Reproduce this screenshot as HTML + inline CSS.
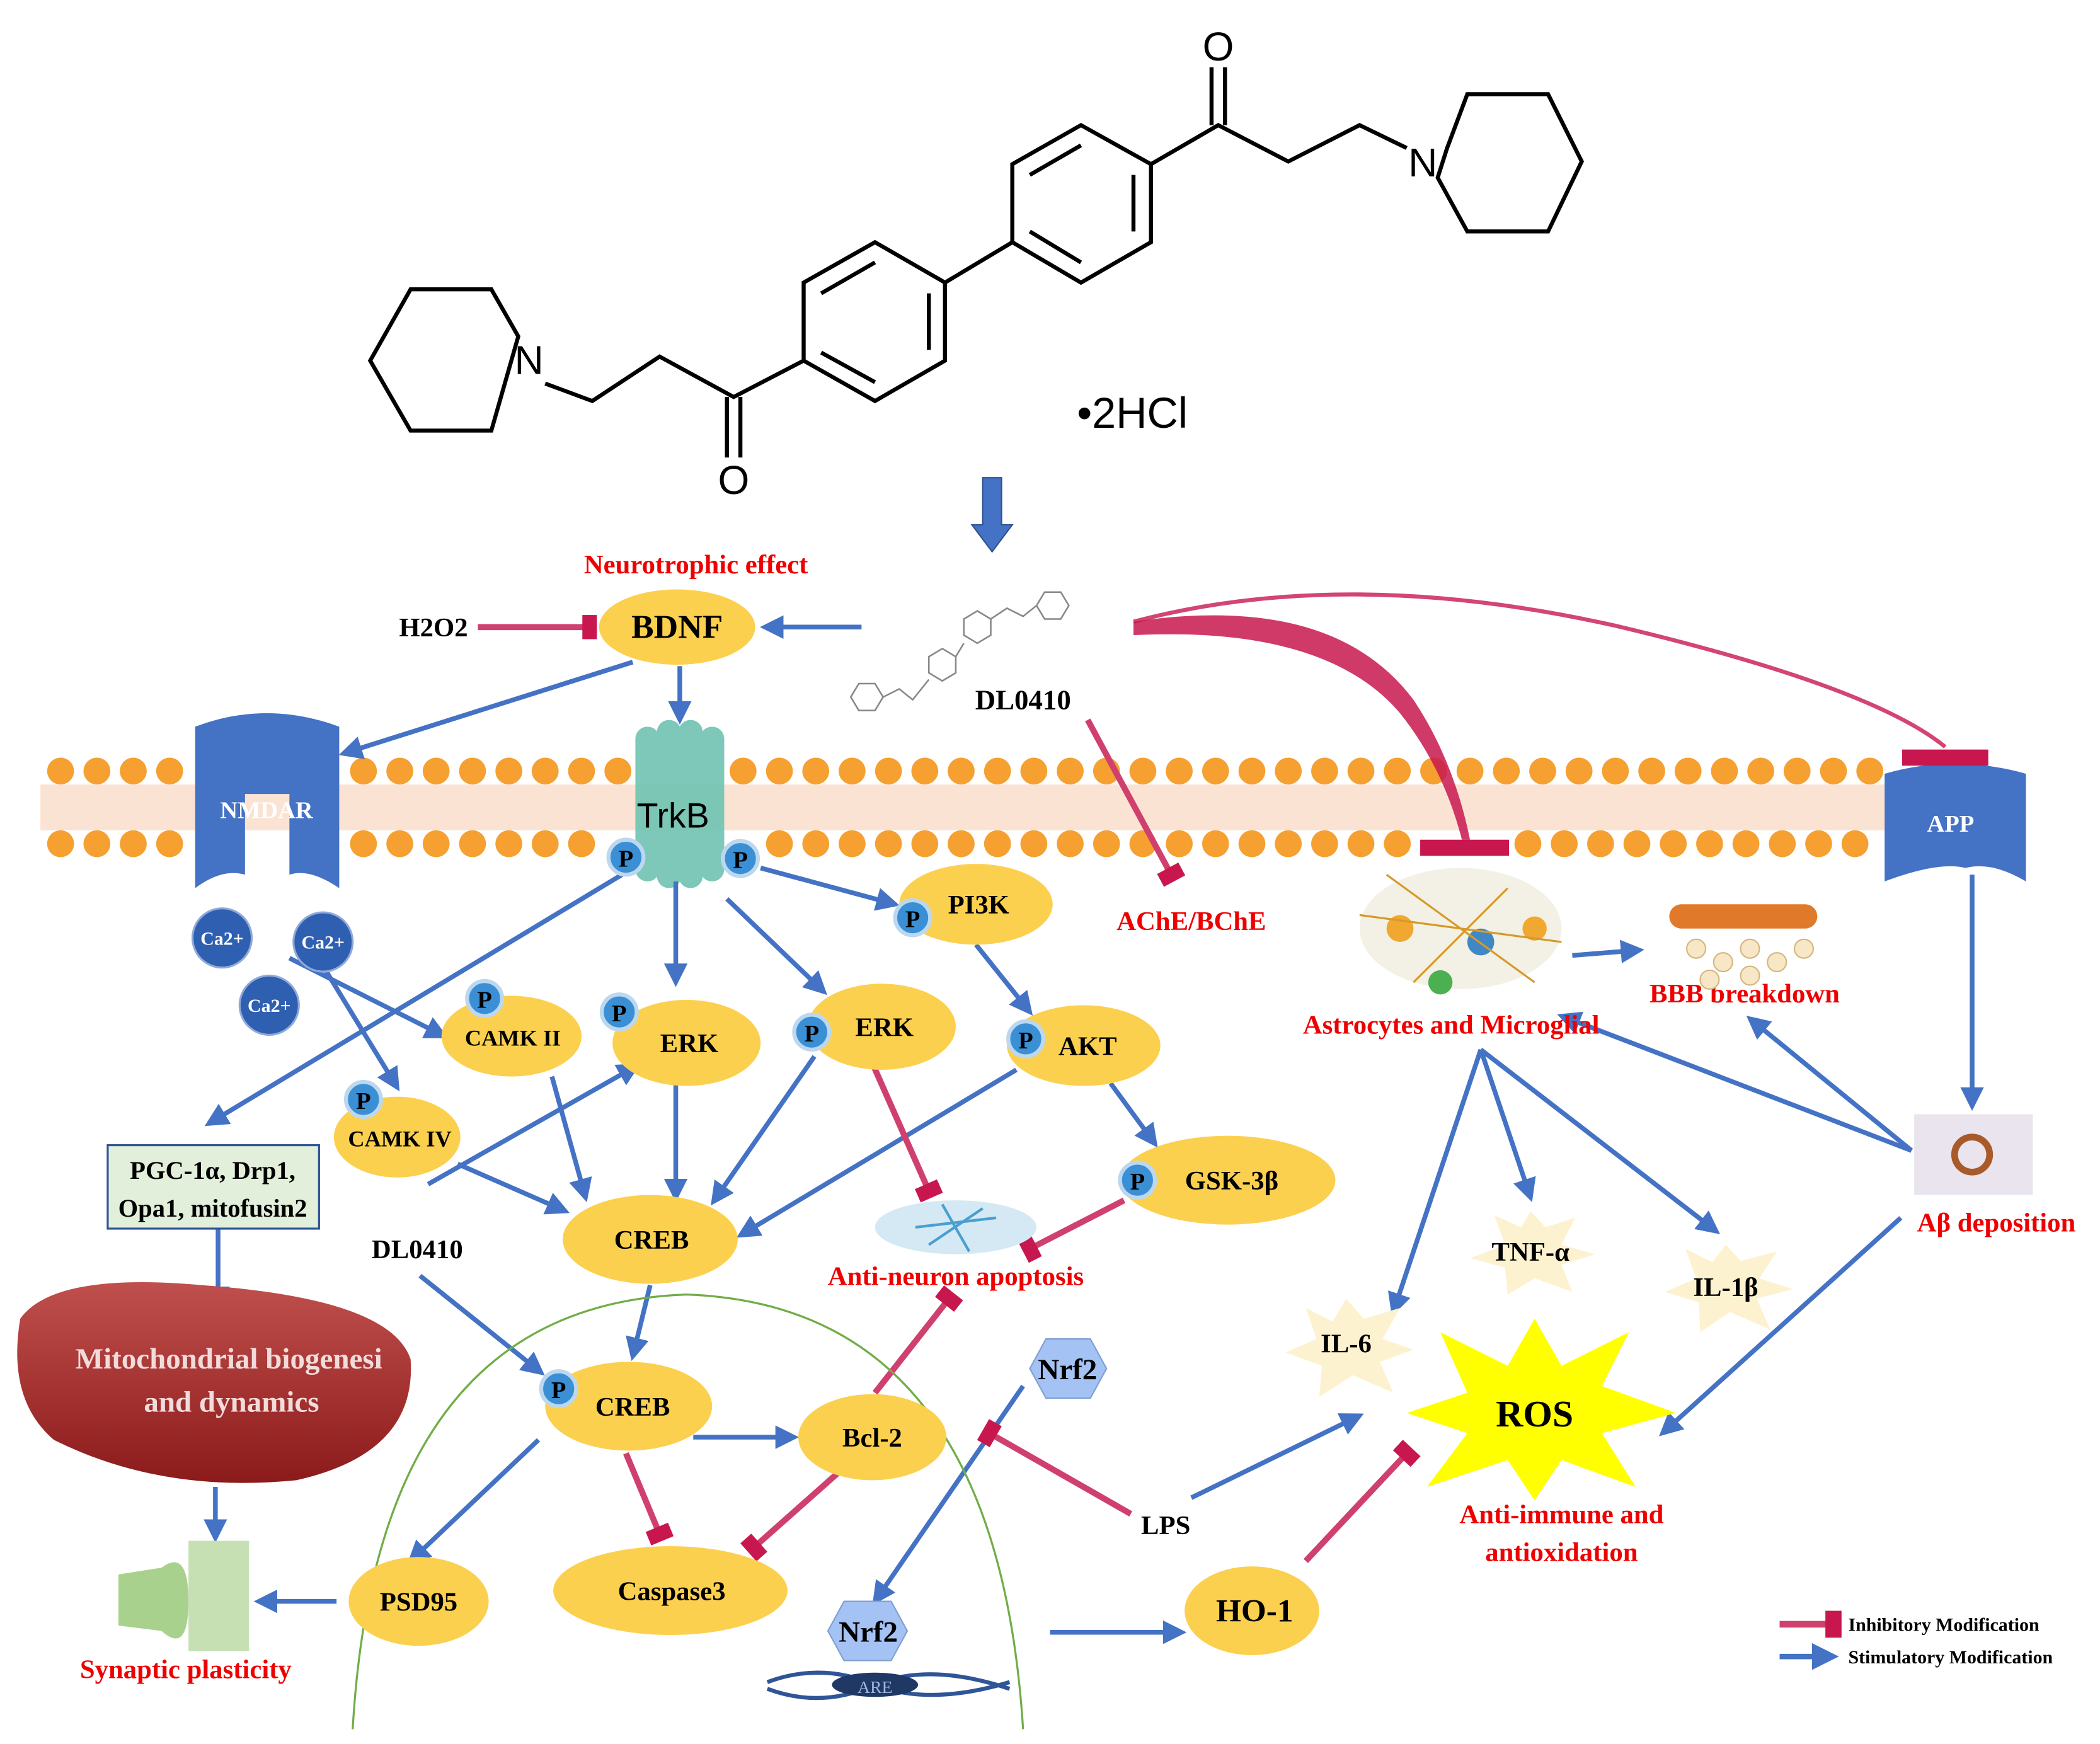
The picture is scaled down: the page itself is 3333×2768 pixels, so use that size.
<!DOCTYPE html>
<html><head><meta charset="utf-8"><style>
html,body{margin:0;padding:0;background:#fff}
svg{display:block}
text{font-family:"Liberation Serif",serif;font-weight:bold}
</style></head><body>
<svg width="3333" height="2768" viewBox="0 0 1560 1296" preserveAspectRatio="none" xmlns="http://www.w3.org/2000/svg">
<defs>
<marker id="ar" viewBox="0 0 10 10" refX="8" refY="5" markerWidth="5" markerHeight="5" orient="auto"><path d="M0,0 L10,5 L0,10 z" fill="#4472C4"/></marker>
<marker id="inh" viewBox="0 0 10 10" refX="5" refY="5" markerWidth="4" markerHeight="4" orient="auto"><rect x="2" y="0" width="6" height="10" fill="#c8174f"/></marker>
<linearGradient id="mito" x1="0" y1="0" x2="0" y2="1"><stop offset="0" stop-color="#c0504d"/><stop offset="1" stop-color="#8b1a1a"/></linearGradient>
</defs>
<!-- chemical structure -->
<g stroke="#000" stroke-width="3" fill="none">
<polygon points="275,268 305,215 365,215 385,250 365,320 305,320"/>
<path d="M405,285 L440,298 L490,265 L545,295 L597,268"/>
<path d="M540,295 L540,340 M550,295 L550,340"/>
<polygon points="597,268 597,210 650,180 702,210 702,268 650,298"/>
<path d="M610,218 L650,195 M690,218 L690,260 M610,262 L650,284"/>
<path d="M702,210 L752,180"/>
<polygon points="752,180 752,122 803,93 855,122 855,180 803,210"/>
<path d="M765,130 L803,108 M842,130 L842,172 M765,172 L803,195"/>
<path d="M855,122 L905,93 L957,120 L1010,93 L1045,110"/>
<path d="M900,93 L900,50 M910,93 L910,50"/>
<polygon points="1075,110 1090,70 1150,70 1175,120 1150,172 1090,172 1068,132"/>
</g>
<text x="393" y="278" font-size="30" text-anchor="middle" style="font-family:'Liberation Sans',sans-serif;font-weight:normal">N</text>
<text x="1057" y="131" font-size="30" text-anchor="middle" style="font-family:'Liberation Sans',sans-serif;font-weight:normal">N</text>
<text x="545" y="367" font-size="30" text-anchor="middle" style="font-family:'Liberation Sans',sans-serif;font-weight:normal">O</text>
<text x="905" y="45" font-size="30" text-anchor="middle" style="font-family:'Liberation Sans',sans-serif;font-weight:normal">O</text>
<text x="800" y="318" font-size="32" style="font-family:'Liberation Sans',sans-serif;font-weight:normal">•2HCl</text>
<!-- down arrow -->
<path d="M730,355 L744,355 L744,390 L752,390 L737,410 L722,390 L730,390 z" fill="#4472C4" stroke="#2f528f"/>
<!-- membrane -->
<rect x="30" y="583" width="1470" height="34" fill="#fbe3d3"/>
<g fill="#f5a030">
<circle cx="45" cy="573" r="10"/><circle cx="72" cy="573" r="10"/><circle cx="99" cy="573" r="10"/><circle cx="126" cy="573" r="10"/>
<circle cx="45" cy="627" r="10"/><circle cx="72" cy="627" r="10"/><circle cx="99" cy="627" r="10"/><circle cx="126" cy="627" r="10"/>
<circle cx="270" cy="573" r="10"/><circle cx="297" cy="573" r="10"/><circle cx="324" cy="573" r="10"/><circle cx="351" cy="573" r="10"/><circle cx="378" cy="573" r="10"/><circle cx="405" cy="573" r="10"/><circle cx="432" cy="573" r="10"/><circle cx="459" cy="573" r="10"/>
<circle cx="270" cy="627" r="10"/><circle cx="297" cy="627" r="10"/><circle cx="324" cy="627" r="10"/><circle cx="351" cy="627" r="10"/><circle cx="378" cy="627" r="10"/><circle cx="405" cy="627" r="10"/><circle cx="432" cy="627" r="10"/>
<circle cx="552" cy="573" r="10"/><circle cx="579" cy="573" r="10"/><circle cx="606" cy="573" r="10"/><circle cx="633" cy="573" r="10"/><circle cx="660" cy="573" r="10"/><circle cx="687" cy="573" r="10"/><circle cx="714" cy="573" r="10"/><circle cx="741" cy="573" r="10"/><circle cx="768" cy="573" r="10"/><circle cx="795" cy="573" r="10"/><circle cx="822" cy="573" r="10"/><circle cx="849" cy="573" r="10"/><circle cx="876" cy="573" r="10"/><circle cx="903" cy="573" r="10"/><circle cx="930" cy="573" r="10"/><circle cx="957" cy="573" r="10"/><circle cx="984" cy="573" r="10"/><circle cx="1011" cy="573" r="10"/><circle cx="1038" cy="573" r="10"/><circle cx="1065" cy="573" r="10"/><circle cx="1092" cy="573" r="10"/><circle cx="1119" cy="573" r="10"/><circle cx="1146" cy="573" r="10"/><circle cx="1173" cy="573" r="10"/><circle cx="1200" cy="573" r="10"/><circle cx="1227" cy="573" r="10"/><circle cx="1254" cy="573" r="10"/><circle cx="1281" cy="573" r="10"/><circle cx="1308" cy="573" r="10"/><circle cx="1335" cy="573" r="10"/><circle cx="1362" cy="573" r="10"/><circle cx="1389" cy="573" r="10"/>
<circle cx="579" cy="627" r="10"/><circle cx="606" cy="627" r="10"/><circle cx="633" cy="627" r="10"/><circle cx="660" cy="627" r="10"/><circle cx="687" cy="627" r="10"/><circle cx="714" cy="627" r="10"/><circle cx="741" cy="627" r="10"/><circle cx="768" cy="627" r="10"/><circle cx="795" cy="627" r="10"/><circle cx="822" cy="627" r="10"/><circle cx="849" cy="627" r="10"/><circle cx="876" cy="627" r="10"/><circle cx="903" cy="627" r="10"/><circle cx="930" cy="627" r="10"/><circle cx="957" cy="627" r="10"/><circle cx="984" cy="627" r="10"/><circle cx="1011" cy="627" r="10"/><circle cx="1038" cy="627" r="10"/><circle cx="1135" cy="627" r="10"/><circle cx="1162" cy="627" r="10"/><circle cx="1189" cy="627" r="10"/><circle cx="1216" cy="627" r="10"/><circle cx="1243" cy="627" r="10"/><circle cx="1270" cy="627" r="10"/><circle cx="1297" cy="627" r="10"/><circle cx="1324" cy="627" r="10"/><circle cx="1351" cy="627" r="10"/><circle cx="1378" cy="627" r="10"/>
</g>
<!-- small molecule -->
<g stroke="#888" stroke-width="1.2" fill="none">
<polygon points="632,518 638,508 650,508 656,518 650,528 638,528"/>
<path d="M656,518 L668,512 L678,520 L690,505"/>
<polygon points="690,500 690,488 700,482 710,488 710,500 700,506"/>
<path d="M710,488 L716,478"/>
<polygon points="716,472 716,460 726,454 736,460 736,472 726,478"/>
<path d="M736,460 L748,452 L760,458 L770,450"/>
<polygon points="770,450 776,440 788,440 794,450 788,460 776,460"/>
</g>
<text x="760" y="527" font-size="21" text-anchor="middle">DL0410</text>
<!-- NMDAR -->
<path d="M145,540 Q198,520 252,540 L252,660 Q230,645 215,650 L215,590 L182,590 L182,650 Q165,645 145,660 z" fill="#4472C4"/>
<text x="198" y="608" font-size="18" fill="#fff" text-anchor="middle">NMDAR</text>
<!-- APP -->
<path d="M1400,575 Q1452,560 1505,575 L1505,655 Q1480,640 1460,645 Q1440,640 1400,655 z" fill="#4472C4"/>
<text x="1449" y="618" font-size="18" fill="#fff" text-anchor="middle">APP</text>
<rect x="1413" y="557" width="64" height="12" fill="#c8174f"/>
<!-- TrkB -->
<g fill="#6fc3b2" opacity="0.9">
<rect x="472" y="540" width="18" height="115" rx="9"/>
<rect x="488" y="535" width="18" height="125" rx="9"/>
<rect x="504" y="535" width="18" height="125" rx="9"/>
<rect x="520" y="540" width="18" height="115" rx="9"/>
</g>
<text x="500" y="615" font-size="26" text-anchor="middle" style="font-family:'Liberation Sans',sans-serif;font-weight:normal">TrkB</text>
<!-- arrows -->
<g stroke="#4472C4" stroke-width="3.5" fill="none" marker-end="url(#ar)">
<path d="M640,466 L568,466"/>
<path d="M470,492 L255,560"/>
<path d="M505,495 L505,535"/>
<path d="M462,650 L155,835"/>
<path d="M502,655 L502,730"/>
<path d="M540,668 L612,737"/>
<path d="M565,645 L665,672"/>
<path d="M725,702 L765,752"/>
<path d="M825,805 L858,850"/>
<path d="M215,712 L330,770"/>
<path d="M240,718 L295,808"/>
<path d="M410,800 L435,890"/>
<path d="M502,800 L502,890"/>
<path d="M605,785 L530,893"/>
<path d="M755,795 L550,918"/>
<path d="M340,865 L420,900"/>
<path d="M318,880 L473,792"/>
<path d="M312,948 L402,1020"/>
<path d="M483,955 L470,1008"/>
<path d="M515,1068 L590,1068"/>
<path d="M400,1070 L305,1160"/>
<path d="M250,1190 L192,1190"/>
<path d="M162,913 L162,970"/>
<path d="M160,1105 L160,1143"/>
<path d="M760,1030 L650,1190"/>
<path d="M780,1213 L878,1213"/>
<path d="M885,1113 L1010,1052"/>
<path d="M1168,710 L1218,706"/>
<path d="M1100,780 L1035,975"/>
<path d="M1100,780 L1137,890"/>
<path d="M1100,780 L1275,915"/>
<path d="M1465,650 L1465,822"/>
<path d="M1420,855 L1160,755"/>
<path d="M1420,855 L1300,757"/>
<path d="M1412,905 L1235,1065"/>
</g>
<!-- inhibition -->
<g stroke="#d0406e" stroke-width="4.5" fill="none" marker-end="url(#inh)">
<path d="M355,466 L438,466"/>
<path d="M808,535 L870,650"/>
<path d="M648,790 L690,885"/>
<path d="M835,892 L765,928"/>
<path d="M650,1035 L705,965"/>
<path d="M465,1080 L490,1140"/>
<path d="M622,1095 L560,1150"/>
<path d="M840,1125 L735,1065"/>
<path d="M970,1160 L1045,1080"/>
</g>
<path d="M842,462 Q990,440 1050,520 Q1080,565 1092,624 L1086,624 Q1072,570 1040,530 Q985,465 842,472 z" fill="#c8174f" opacity="0.85"/>
<rect x="1055" y="624" width="66" height="12" fill="#c8174f"/>
<path d="M842,462 Q1000,420 1200,465 Q1390,510 1445,555" stroke="#c8174f" stroke-width="3" fill="none" opacity="0.8"/>
<!-- green arc -->
<path d="M262,1285 Q280,970 510,962 Q740,970 760,1285" stroke="#70ad47" stroke-width="1.5" fill="none"/>
<!-- ellipses -->
<g fill="#fcd04f">
<ellipse cx="503" cy="466" rx="58" ry="28"/>
<ellipse cx="725" cy="672" rx="57" ry="30"/>
<ellipse cx="380" cy="770" rx="52" ry="30"/>
<ellipse cx="510" cy="775" rx="55" ry="32"/>
<ellipse cx="655" cy="763" rx="55" ry="32"/>
<ellipse cx="805" cy="777" rx="57" ry="30"/>
<ellipse cx="295" cy="845" rx="47" ry="30"/>
<ellipse cx="912" cy="877" rx="80" ry="33"/>
<ellipse cx="483" cy="921" rx="65" ry="33"/>
<ellipse cx="467" cy="1045" rx="62" ry="33"/>
<ellipse cx="648" cy="1068" rx="55" ry="32"/>
<ellipse cx="498" cy="1182" rx="87" ry="33"/>
<ellipse cx="311" cy="1190" rx="52" ry="33"/>
<ellipse cx="930" cy="1197" rx="50" ry="33"/>
</g>
<g font-size="20" text-anchor="middle">
<text x="503" y="474" font-size="25">BDNF</text>
<text x="727" y="679">PI3K</text>
<text x="381" y="777" font-size="17">CAMK II</text>
<text x="512" y="782">ERK</text>
<text x="657" y="770">ERK</text>
<text x="808" y="784">AKT</text>
<text x="297" y="852" font-size="17">CAMK IV</text>
<text x="915" y="884">GSK-3β</text>
<text x="484" y="928">CREB</text>
<text x="470" y="1052">CREB</text>
<text x="648" y="1075">Bcl-2</text>
<text x="499" y="1189">Caspase3</text>
<text x="311" y="1197">PSD95</text>
<text x="932" y="1205" font-size="24">HO-1</text>
</g>
<!-- P circles -->
<g fill="#3b8fd4" stroke="#bcd8f0" stroke-width="3">
<circle cx="465" cy="637" r="13"/><circle cx="550" cy="638" r="13"/>
<circle cx="678" cy="682" r="13"/><circle cx="360" cy="742" r="13"/>
<circle cx="460" cy="752" r="13"/><circle cx="603" cy="767" r="13"/>
<circle cx="762" cy="772" r="13"/><circle cx="270" cy="817" r="13"/>
<circle cx="845" cy="877" r="13"/><circle cx="415" cy="1032" r="13"/>
</g>
<g font-size="18" text-anchor="middle">
<text x="465" y="644">P</text><text x="550" y="645">P</text><text x="678" y="689">P</text>
<text x="360" y="749">P</text><text x="460" y="759">P</text><text x="603" y="774">P</text>
<text x="762" y="779">P</text><text x="270" y="824">P</text><text x="845" y="884">P</text>
<text x="415" y="1039">P</text>
</g>
<!-- Ca2+ -->
<g fill="#2e5fb0" stroke="#8fa9d9" stroke-width="1.5">
<circle cx="165" cy="697" r="22"/><circle cx="240" cy="700" r="22"/><circle cx="200" cy="747" r="22"/>
</g>
<g font-size="14" fill="#fff" text-anchor="middle">
<text x="165" y="702">Ca2+</text><text x="240" y="705">Ca2+</text><text x="200" y="752">Ca2+</text>
</g>
<!-- PGC box -->
<rect x="80" y="851" width="157" height="62" fill="#e2efda" stroke="#2f5597" stroke-width="1.5"/>
<text x="158" y="876" font-size="19" text-anchor="middle">PGC-1α, Drp1,</text>
<text x="158" y="904" font-size="19" text-anchor="middle">Opa1, mitofusin2</text>
<!-- mitochondrion -->
<path d="M15,980 Q40,945 150,955 Q290,965 305,1010 Q310,1080 220,1100 Q120,1110 40,1070 Q5,1040 15,980 z" fill="url(#mito)"/>
<text x="170" y="1017" font-size="22" fill="#f2dcdb" text-anchor="middle">Mitochondrial biogenesi</text>
<text x="172" y="1049" font-size="22" fill="#f2dcdb" text-anchor="middle">and dynamics</text>
<!-- synapse -->
<rect x="140" y="1145" width="45" height="82" fill="#c6e0b4"/>
<path d="M88,1170 L120,1165 Q140,1150 140,1190 Q140,1230 120,1212 L88,1208 z" fill="#a9d18e"/>
<text x="138" y="1247" font-size="20" fill="#e00" text-anchor="middle">Synaptic plasticity</text>
<text x="310" y="935" font-size="20" text-anchor="middle">DL0410</text>
<text x="322" y="473" font-size="20" text-anchor="middle">H2O2</text>
<text x="866" y="1140" font-size="20" text-anchor="middle">LPS</text>
<!-- red labels -->
<g fill="#e00" font-size="20" text-anchor="middle">
<text x="517" y="426">Neurotrophic effect</text>
<text x="885" y="691">AChE/BChE</text>
<text x="710" y="955">Anti-neuron apoptosis</text>
<text x="1078" y="768">Astrocytes and Microglial</text>
<text x="1296" y="745">BBB breakdown</text>
<text x="1483" y="915">Aβ deposition</text>
<text x="1160" y="1132">Anti-immune and</text>
<text x="1160" y="1160">antioxidation</text>
</g>
<!-- images -->
<ellipse cx="710" cy="912" rx="60" ry="20" fill="#d5e9f5"/>
<path d="M680,912 L740,905 M700,895 L720,930 M690,925 L730,898" stroke="#4a9fd1" stroke-width="2"/>
<ellipse cx="1085" cy="690" rx="75" ry="45" fill="#f3f1e6"/>
<circle cx="1040" cy="690" r="10" fill="#f0a830"/><circle cx="1100" cy="700" r="10" fill="#3f88c5"/><circle cx="1140" cy="690" r="9" fill="#f0a830"/><circle cx="1070" cy="730" r="9" fill="#4caf50"/>
<path d="M1010,680 L1160,700 M1030,650 L1140,730 M1050,730 L1120,660" stroke="#d69a2a" stroke-width="1.5"/>
<rect x="1240" y="672" width="110" height="18" rx="9" fill="#e07a2a"/>
<g fill="#f7e7c6" stroke="#d6b57e"><circle cx="1260" cy="705" r="7"/><circle cx="1280" cy="715" r="7"/><circle cx="1300" cy="705" r="7"/><circle cx="1320" cy="715" r="7"/><circle cx="1340" cy="705" r="7"/><circle cx="1300" cy="725" r="7"/><circle cx="1270" cy="728" r="7"/></g>
<rect x="1422" y="828" width="88" height="60" fill="#e9e4ee"/>
<circle cx="1465" cy="858" r="13" fill="none" stroke="#a85a2a" stroke-width="5"/>
<!-- stars -->
<g fill="#fdf2d0">
<polygon points="1137,900 1148,912 1170,905 1160,925 1185,932 1160,940 1168,960 1140,950 1120,962 1118,942 1092,935 1118,925 1110,903 1130,912"/>
<polygon points="1282,925 1293,937 1320,930 1307,950 1332,958 1305,965 1315,988 1285,975 1263,990 1262,968 1237,960 1260,950 1252,928 1272,938"/>
<polygon points="1000,965 1013,980 1040,972 1027,995 1050,1003 1025,1012 1035,1035 1005,1022 980,1038 982,1015 955,1005 978,995 970,972 990,982"/>
</g>
<polygon points="1140,980 1160,1015 1210,990 1190,1030 1245,1050 1190,1065 1215,1105 1160,1085 1140,1115 1120,1085 1060,1105 1090,1065 1045,1050 1090,1035 1070,990 1120,1015" fill="#ffff00"/>
<g font-size="20" text-anchor="middle">
<text x="1137" y="937">TNF-α</text><text x="1282" y="963">IL-1β</text><text x="1000" y="1005">IL-6</text>
<text x="1140" y="1060" font-size="28">ROS</text>
</g>
<!-- Nrf2 -->
<polygon points="765,1017 777,995 810,995 822,1017 810,1039 777,1039" fill="#a4c2f4" stroke="#7f9fd0"/>
<polygon points="615,1212 627,1190 662,1190 674,1212 662,1234 627,1234" fill="#a4c2f4" stroke="#7f9fd0"/>
<text x="793" y="1025" font-size="22" text-anchor="middle">Nrf2</text>
<text x="645" y="1220" font-size="22" text-anchor="middle">Nrf2</text>
<path d="M570,1250 Q610,1235 650,1252 Q690,1268 750,1250 M570,1255 Q610,1270 650,1252 Q690,1235 750,1255" stroke="#2f5597" stroke-width="3" fill="none"/>
<ellipse cx="650" cy="1252" rx="32" ry="9" fill="#1f3864"/>
<text x="650" y="1258" font-size="13" fill="#9fb6e0" text-anchor="middle" style="font-weight:normal">ARE</text>
<!-- legend -->
<path d="M1322,1207 L1362,1207" stroke="#d0406e" stroke-width="5" marker-end="url(#inh)"/>
<path d="M1322,1231 L1362,1231" stroke="#4472C4" stroke-width="4" marker-end="url(#ar)"/>
<text x="1373" y="1212" font-size="14">Inhibitory Modification</text>
<text x="1373" y="1236" font-size="14">Stimulatory Modification</text>
</svg>
</body></html>
